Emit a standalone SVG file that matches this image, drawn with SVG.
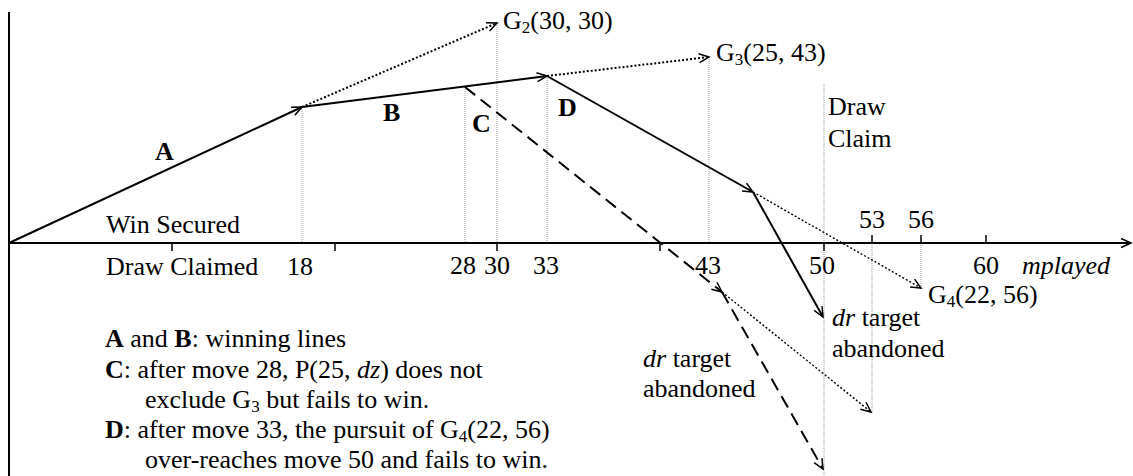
<svg xmlns="http://www.w3.org/2000/svg" width="1133" height="476" viewBox="0 0 1133 476">
<style>
text { font-family: "Liberation Serif", "Times New Roman", serif; font-size: 26px; fill: #000; }
.b { font-weight: bold; }
.i { font-style: italic; }
.sub { font-size: 17px; }
.axis { stroke: #000; stroke-width: 2; fill: none; }
.tick { stroke: #000; stroke-width: 1.5; }
.guide { stroke: #999; stroke-width: 1; stroke-dasharray: 1 1; fill: none; }
.solid { stroke: #000; stroke-width: 2; fill: none; }
.dash { stroke: #000; stroke-width: 2; stroke-dasharray: 13 7; fill: none; }
.dot { stroke: #000; stroke-width: 2; stroke-dasharray: 2 2; fill: none; }
.dotf { stroke: #000; stroke-width: 1.4; stroke-dasharray: 2 2; fill: none; }
</style>
<defs>
<marker id="arr" markerUnits="userSpaceOnUse" markerWidth="12" markerHeight="12" refX="11" refY="6" orient="auto" overflow="visible">
<path d="M1,1.5 L11,6 L1,10.5" fill="none" stroke="#000" stroke-width="1.5"/>
</marker>
</defs>
<rect width="1133" height="476" fill="#fff"/>

<g id="guides">
<line class="guide" x1="302" y1="107" x2="302" y2="243"/>
<line class="guide" x1="465" y1="87" x2="465" y2="243"/>
<line class="guide" x1="497" y1="23" x2="497" y2="243"/>
<line class="guide" x1="547" y1="76" x2="547" y2="243"/>
<line class="guide" x1="709" y1="57" x2="709" y2="243"/>
<line class="guide" x1="824" y1="84" x2="824" y2="476"/>
<line class="guide" x1="872" y1="243" x2="872" y2="412"/>
<line class="guide" x1="921" y1="243" x2="921" y2="288"/>
</g>

<g id="axes">
<line class="axis" x1="9" y1="12" x2="9" y2="476"/>
<line class="axis" x1="9" y1="243" x2="1131" y2="243" marker-end="url(#arr)"/>
<line class="tick" x1="172" y1="243" x2="172" y2="251"/>
<line class="tick" x1="335" y1="243" x2="335" y2="251"/>
<line class="tick" x1="497" y1="243" x2="497" y2="251"/>
<line class="tick" x1="660" y1="243" x2="660" y2="251"/>
<line class="tick" x1="824" y1="243" x2="824" y2="251"/>
<line class="tick" x1="872" y1="235" x2="872" y2="243"/>
<line class="tick" x1="921" y1="235" x2="921" y2="243"/>
<line class="tick" x1="986" y1="235" x2="986" y2="243"/>
</g>

<g id="connectors">
<line class="solid" x1="9" y1="243" x2="302" y2="107" marker-end="url(#arr)"/>
<line class="solid" x1="302" y1="107" x2="547" y2="76" marker-end="url(#arr)"/>
<line class="dot" x1="302" y1="107" x2="497" y2="23" marker-end="url(#arr)"/>
<line class="dot" x1="547" y1="76" x2="709" y2="57" marker-end="url(#arr)"/>
<line class="solid" x1="547" y1="76" x2="753" y2="192" marker-end="url(#arr)"/>
<line class="solid" x1="753" y1="192" x2="823" y2="317" marker-end="url(#arr)"/>
<line class="dotf" x1="753" y1="192" x2="921" y2="288" marker-end="url(#arr)"/>
<line class="dash" x1="465" y1="87" x2="722" y2="292" marker-end="url(#arr)"/>
<line class="dash" x1="722" y1="292" x2="823" y2="469" marker-end="url(#arr)"/>
<line class="dotf" x1="722" y1="292" x2="871" y2="412" marker-end="url(#arr)"/>
</g>

<g id="line-labels">
<text class="b" x="155" y="160">A</text>
<text class="b" x="383" y="121">B</text>
<text class="b" x="472" y="132">C</text>
<text class="b" x="558" y="116">D</text>
</g>

<g id="goal-labels">
<text x="503" y="29">G<tspan class="sub" dy="4">2</tspan><tspan dy="-4">(30, 30)</tspan></text>
<text x="716" y="61">G<tspan class="sub" dy="4">3</tspan><tspan dy="-4">(25, 43)</tspan></text>
<text x="928" y="303">G<tspan class="sub" dy="4">4</tspan><tspan dy="-4">(22, 56)</tspan></text>
<text x="828" y="115">Draw</text>
<text x="828" y="147">Claim</text>
<text x="832" y="326"><tspan class="i">dr</tspan> target</text>
<text x="832" y="357">abandoned</text>
<text x="643" y="367"><tspan class="i">dr</tspan> target</text>
<text x="643" y="397">abandoned</text>
</g>

<g id="axis-labels">
<text x="106" y="233">Win Secured</text>
<text x="106" y="275">Draw Claimed</text>
<text x="287" y="275">18</text>
<text x="450" y="274">28</text>
<text x="484" y="274">30</text>
<text x="533" y="274">33</text>
<text x="695" y="274">43</text>
<text x="809" y="274">50</text>
<text x="973" y="274">60</text>
<text class="i" x="1022" y="274">mplayed</text>
<text x="859" y="228">53</text>
<text x="908" y="228">56</text>
</g>

<g id="legend">
<text x="105" y="347"><tspan class="b">A</tspan> and <tspan class="b">B</tspan>: winning lines</text>
<text x="105" y="378"><tspan class="b">C</tspan>: after move 28, P(25, <tspan class="i">dz</tspan>) does not</text>
<text x="145" y="408">exclude G<tspan class="sub" dy="4">3</tspan><tspan dy="-4"> but fails to win.</tspan></text>
<text x="105" y="438"><tspan class="b">D</tspan>: after move 33, the pursuit of G<tspan class="sub" dy="4">4</tspan><tspan dy="-4">(22, 56)</tspan></text>
<text x="145" y="468">over-reaches move 50 and fails to win.</text>
</g>
</svg>
